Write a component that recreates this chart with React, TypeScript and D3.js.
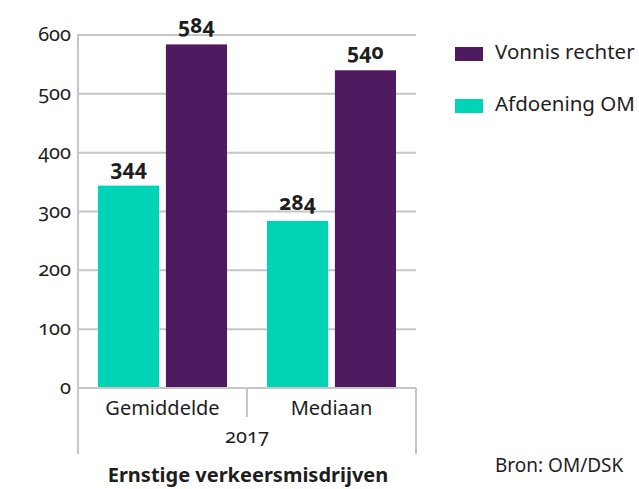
import React from "react";
import * as d3 from "d3";

const categories = ["Gemiddelde", "Mediaan"];
const seriesNames = ["Afdoening OM", "Vonnis rechter"];
const afdoeningOM = [344, 284];
const vonnisRechter = [584, 540];
const yTicks = [0, 100, 200, 300, 400, 500, 600];
const groupLabel = "2017";
const title = "Ernstige verkeersmisdrijven";
const source = "Bron: OM/DSK";
const colors = ["#00d4b7", "#501a60"];

const W = 639;
const H = 489;
const FONT = "'Noto Sans', sans-serif";
const GRID = "#c6c6c6";
const TEXT = "#1e1e1e";

export default function App() {
  const x0 = d3.scaleBand<string>().domain(categories).range([78, 416]).paddingInner(0).paddingOuter(0);
  const x1 = d3
    .scaleBand<string>()
    .domain(seriesNames)
    .range([20, x0.bandwidth() - 20])
    .paddingInner(0.1)
    .paddingOuter(0);
  const y = d3.scaleLinear().domain([0, 600]).range([388, 35]);
  const values = [afdoeningOM, vonnisRechter];
  const numStyle: React.CSSProperties = { fontVariantNumeric: "oldstyle-nums", fontFeatureSettings: "'onum' 1" };

  return (
    <svg width={W} height={H} style={{ position: "absolute", left: 0, top: 0, background: "#fff" }} fontFamily={FONT}>
      {yTicks.map((t) => (
        <g key={t}>
          {t > 0 && <line x1={78} x2={416} y1={y(t)} y2={y(t)} stroke={GRID} strokeWidth={2} />}
          <text x={71} y={y(t) + 6} textAnchor="end" fontSize={20} fill={TEXT} style={numStyle}>
            {t}
          </text>
        </g>
      ))}
      {categories.map((c, i) =>
        seriesNames.map((s, j) => (
          <rect
            key={c + s}
            x={(x0(c) as number) + (x1(s) as number)}
            y={y(values[j][i])}
            width={x1.bandwidth()}
            height={y(0) - y(values[j][i])}
            fill={colors[j]}
          />
        ))
      )}
      {categories.map((c, i) =>
        seriesNames.map((s, j) => (
          <text
            key={"l" + c + s}
            x={(x0(c) as number) + (x1(s) as number) + x1.bandwidth() / 2}
            y={y(values[j][i]) - 11}
            textAnchor="middle"
            fontSize={21}
            fontWeight="bold"
            fill={TEXT}
            style={numStyle}
          >
            {values[j][i]}
          </text>
        ))
      )}
      <line x1={78} x2={416} y1={388} y2={388} stroke={GRID} strokeWidth={2} />
      <line x1={78} x2={78} y1={34} y2={388} stroke={GRID} strokeWidth={2} />
      <line x1={78} x2={78} y1={388} y2={454} stroke={GRID} strokeWidth={2} />
      <line x1={416} x2={416} y1={388} y2={454} stroke={GRID} strokeWidth={2} />
      <line x1={247} x2={247} y1={388} y2={417} stroke={GRID} strokeWidth={2} />
      {categories.map((c) => (
        <text key={"c" + c} x={(x0(c) as number) + x0.bandwidth() / 2} y={415} textAnchor="middle" fontSize={20} fill={TEXT}>
          {c}
        </text>
      ))}
      <text x={247} y={443} textAnchor="middle" fontSize={20} fill={TEXT} style={numStyle}>
        {groupLabel}
      </text>
      <text x={248} y={482} textAnchor="middle" fontSize={20} fontWeight="bold" fill={TEXT}>
        {title}
      </text>
      {[1, 0].map((j, k) => (
        <g key={"lg" + j}>
          <rect x={455} y={47 + k * 52} width={28} height={14} fill={colors[j]} />
          <text x={495} y={59 + k * 52} fontSize={20.5} fill={TEXT}>
            {seriesNames[j]}
          </text>
        </g>
      ))}
      <text x={495} y={472} fontSize={19} fill={TEXT}>
        {source}
      </text>
    </svg>
  );
}
